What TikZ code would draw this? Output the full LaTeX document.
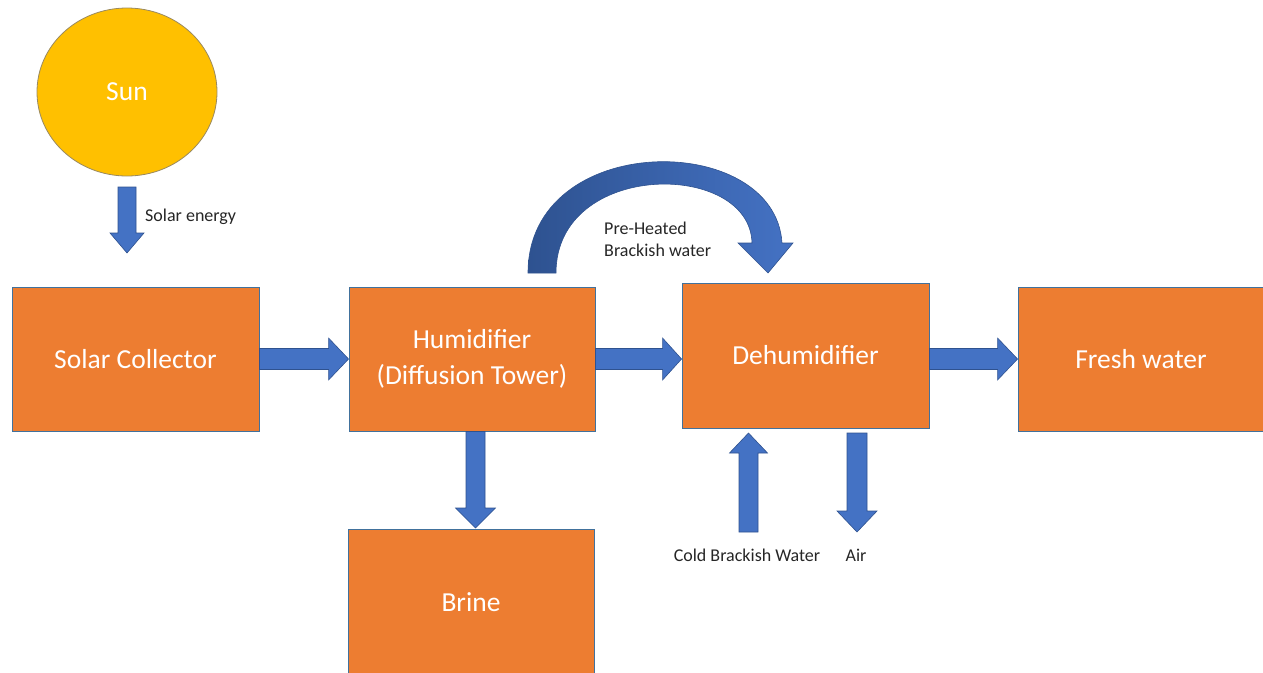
\documentclass[tikz,border=0pt]{standalone}
\usepackage{fontspec}
\setmainfont{Carlito}
\usetikzlibrary{calc,shapes.geometric}
\definecolor{boxorange}{HTML}{ED7D31}
\definecolor{boxline}{HTML}{41719C}
\definecolor{arrblue}{HTML}{4472C4}
\definecolor{arrline}{HTML}{2F528F}
\definecolor{arrdark}{HTML}{2E5290}
\definecolor{sunfill}{HTML}{FFC000}
\definecolor{sunline}{HTML}{9A8A60}
\definecolor{labelgray}{HTML}{262626}
\tikzset{
  box/.style={rectangle, draw=boxline, line width=0.9pt, fill=boxorange,
    text=white, font=\fontsize{27.5}{36}\selectfont, align=center, inner sep=0pt},
  blk/.style={fill=arrblue, draw=arrline, line width=0.6pt, line join=miter},
  lbl/.style={text=labelgray, font=\fontsize{18}{22}\selectfont, inner sep=0pt}
}
\newcommand\barrow[5]{%
  \coordinate (bah) at ($(#2)!#5!(#1)$);
  \path[blk] ($(#1)!#3!90:(#2)$) -- ($(bah)!#3!90:(#2)$) -- ($(bah)!#4!90:(#2)$)
    -- (#2) -- ($(bah)!#4!-90:(#2)$) -- ($(bah)!#3!-90:(#2)$) -- ($(#1)!#3!-90:(#2)$) -- cycle;}
\begin{document}
\begin{tikzpicture}[x=1pt,y=-1pt]
\useasboundingbox (0,0) rectangle (1263,672);
% nodes
\node[ellipse, draw=sunline, line width=0.8pt, fill=sunfill, minimum width=180pt,
  minimum height=168pt, text=white, font=\fontsize{27.5}{33}\selectfont] (sun) at (127,92) {Sun};
\node[box, minimum width=247pt, minimum height=144pt] (sc) at (135.5,359) {Solar Collector};
\node[box, minimum width=246pt, minimum height=144pt] (hum) at (472,359) {Humidifier\\(Diffusion Tower)};
\node[box, minimum width=247pt, minimum height=145pt] (dh) at (805.5,355.5) {Dehumidifier};
\node[box, minimum width=246pt, minimum height=144pt] (fw) at (1141,359) {Fresh water};
\node[box, minimum width=246pt, minimum height=160pt] (br) at (471,609) {};
\node[text=white, font=\fontsize{27.5}{33}\selectfont] (brt) at (471,602) {Brine};
% free ends
\coordinate (se1) at (127,187);
\coordinate (se2) at (127,253);
\coordinate (cw1) at (748.5,532);
\coordinate (cw2) at (748.5,433);
\coordinate (air1) at (857,433);
\coordinate (air2) at (857,532);
% straight block arrows
\barrow{se1}{se2}{9pt}{17pt}{20pt}
\barrow{sc.east}{hum.west}{10.5pt}{21pt}{20pt}
\barrow{hum.east}{dh.west |- hum.east}{10.5pt}{21pt}{19pt}
\barrow{dh.east |- fw.west}{fw.west}{10.5pt}{21pt}{20pt}
\barrow{hum.south -| 475.5,0}{475.5,528}{9.5pt}{20pt}{20pt}
\barrow{cw1}{cw2}{9.5pt}{19pt}{20pt}
\barrow{air1}{air2}{10pt}{20pt}{21pt}
% curved arrow
\coordinate (ca1) at (528,273);
\coordinate (ca2) at (556,273);
\shade[left color=arrdark, right color=arrblue, draw=arrline, line width=0.6pt]
  (ca1) .. controls (528,130) and (775,130) .. (782,243)
  -- (793,243) -- (768,273) -- (738,243) -- (752,243)
  .. controls (750,160) and (556,160) .. (ca2) -- cycle;
% labels
\node[lbl, anchor=west] (selbl) at (145,217) {Solar energy};
\node[lbl, anchor=west, align=left] (phlbl) at (604,239) {Pre-Heated\\Brackish water};
\node[lbl] (cwlbl) at (747,555) {Cold Brackish Water};
\node[lbl] (airlbl) at (856,555) {Air};
\end{tikzpicture}
\end{document}
